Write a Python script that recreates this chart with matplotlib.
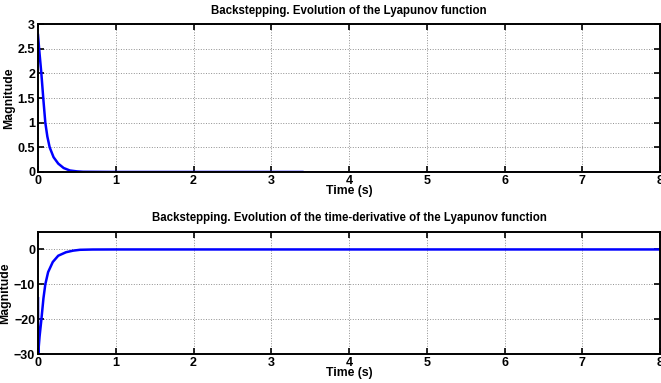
import numpy as np
import matplotlib.pyplot as plt

# values
T_V    = [0.0, 0.02, 0.043, 0.07, 0.094, 0.12, 0.15, 0.2, 0.26, 0.33, 0.41, 0.5, 0.58, 1.0, 3.4]
V      = [2.78, 2.4, 2.0, 1.45, 1.0, 0.72, 0.5, 0.3, 0.17, 0.08, 0.03, 0.012, 0.004, 0.0, 0.0]
T_DV   = [0.0, 0.002, 0.02, 0.043, 0.07, 0.094, 0.13, 0.19, 0.26, 0.36, 0.45, 0.54, 0.7, 1.0, 8.0]
DV     = [-14.0, -30.0, -25.0, -20.2, -14.0, -10.0, -6.5, -3.6, -1.8, -0.8, -0.35, -0.1, -0.02, 0.0, 0.0]

BLUE = '#0000ff'
plt.rcParams['font.family'] = ['Liberation Sans', 'DejaVu Sans']
plt.rcParams['font.weight'] = 'bold'


def style(ax, xlim, ylim, yticks):
    ax.set_xlim(*xlim)
    ax.set_ylim(*ylim)
    ax.set_xticks(range(0, 9))
    ax.set_yticks(yticks)
    ax.grid(True, color='#909090', linestyle=':', linewidth=0.7)
    ax.tick_params(direction='in', top=True, right=True, length=4, width=1.2,
                   labelsize=9, pad=2)
    for lab in ax.get_xticklabels() + ax.get_yticklabels():
        lab.set_fontweight('bold')
    for s in ax.spines.values():
        s.set_linewidth(1.4)
    ax.set_xlabel('Time (s)', fontsize=8.8, fontweight='bold', labelpad=-1)
    ax.set_ylabel('Magnitude', fontsize=8.8, fontweight='bold', labelpad=2)


fig = plt.figure(figsize=(6.61, 3.83), dpi=100)
ax1 = fig.add_axes([0.0575, 0.551, 0.941, 0.386])
ax2 = fig.add_axes([0.0575, 0.0757, 0.941, 0.3185])

ax1.plot(T_V, V, color=BLUE, linewidth=1.8)
ax1.plot([3.4, 8], [0, 0], color='#000080', linewidth=1.8)
style(ax1, (0, 8), (0, 3), [0, 0.5, 1, 1.5, 2, 2.5, 3])
ax1.set_yticklabels(['0', '0.5', '1', '1.5', '2', '2.5', '3'])
ax1.set_title('Backstepping. Evolution of the Lyapunov function',
              fontsize=8.3, fontweight='bold', pad=7)

ax2.plot(T_DV, DV, color=BLUE, linewidth=1.8)
style(ax2, (0, 8), (-30, 5), [-30, -20, -10, 0])
ax2.set_title('Backstepping. Evolution of the time-derivative of the Lyapunov function',
              fontsize=8.3, fontweight='bold', pad=8)

fig.savefig('out.png', dpi=100)
